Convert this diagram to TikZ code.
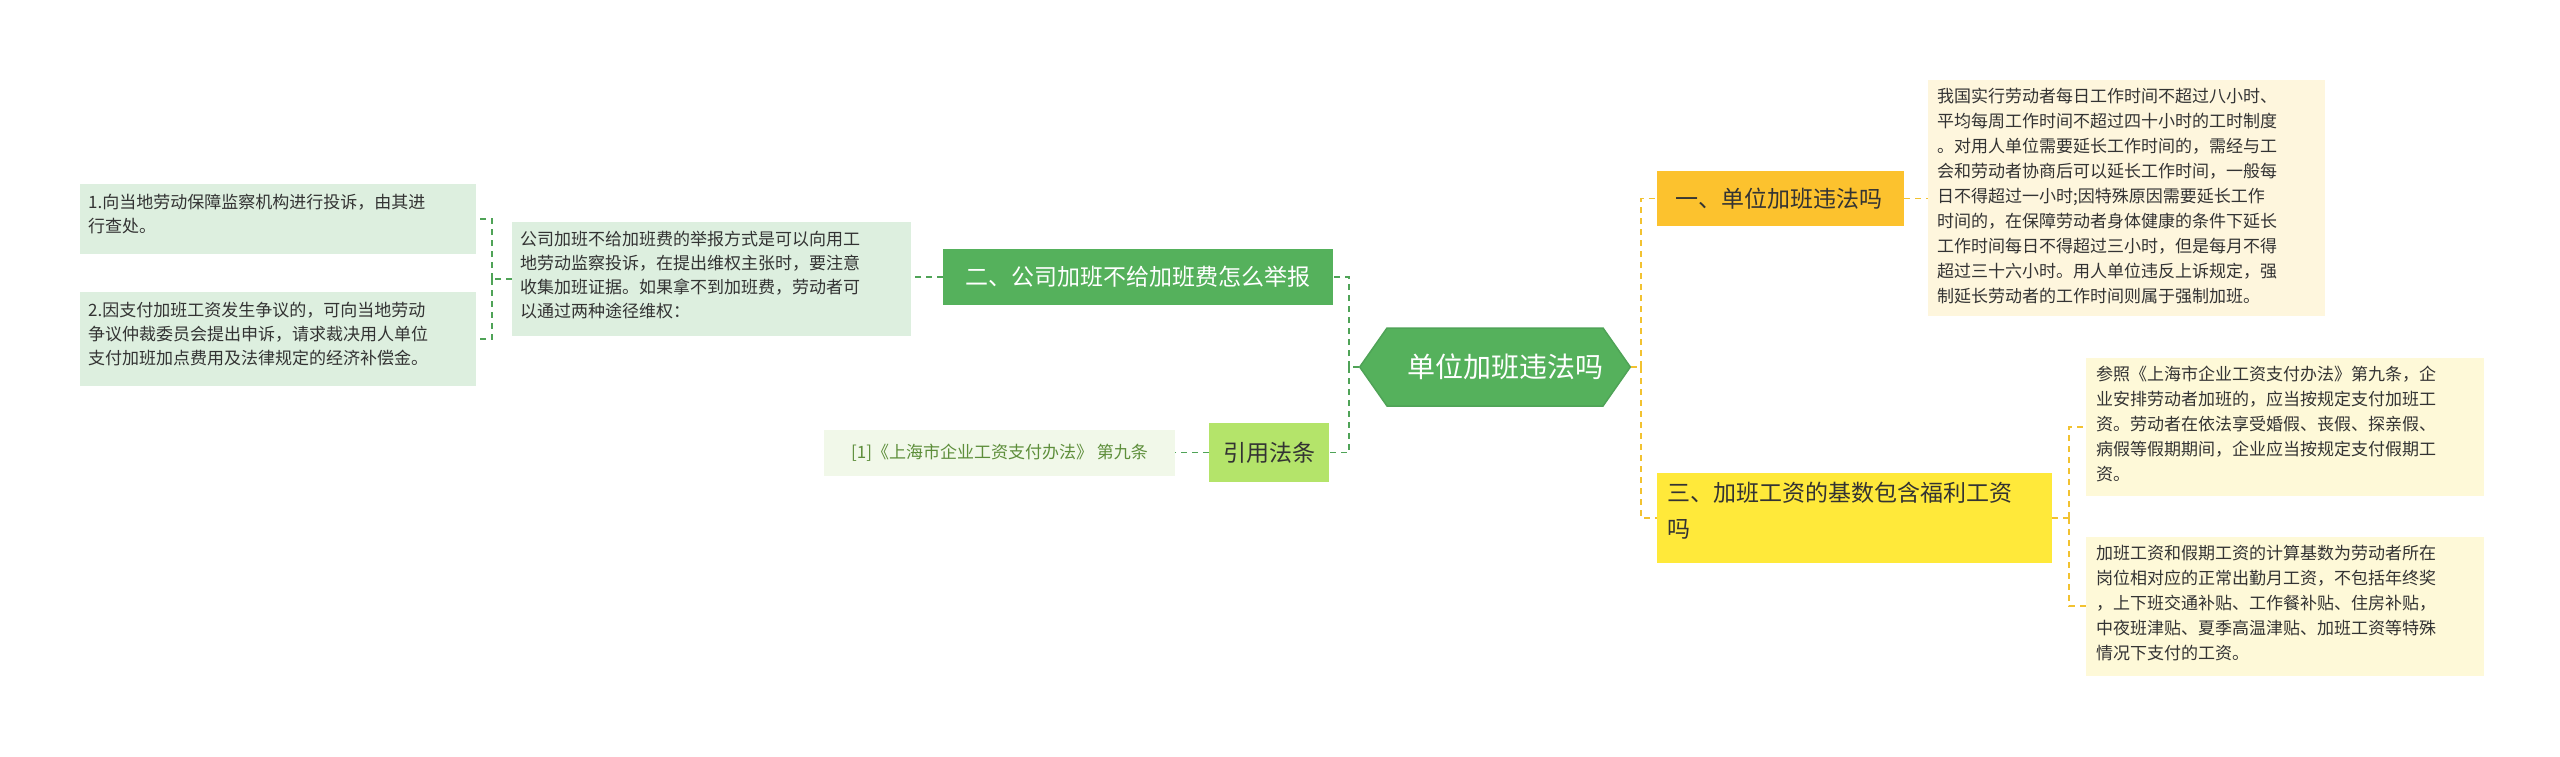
\documentclass[tikz,border=0pt]{standalone}
\usepackage{fontspec}
\setmainfont{Noto Sans CJK SC}
\usetikzlibrary{shapes.symbols}
\definecolor{gmain}{HTML}{55B15C}
\definecolor{gline}{HTML}{4FA357}
\definecolor{gpale}{HTML}{DDEFDF}
\definecolor{ylink}{HTML}{F2C230}
\definecolor{orangey}{HTML}{FCC22E}
\definecolor{yellowy}{HTML}{FFE93A}
\definecolor{cream}{HTML}{FEF6DD}
\definecolor{cream2}{HTML}{FEF9D8}
\definecolor{lime}{HTML}{B4E46A}
\definecolor{refbg}{HTML}{F1F8E9}
\definecolor{reftxt}{HTML}{5D8E3A}
\tikzset{
  x=1pt,y=-1pt,
  txt/.style={font=\fontsize{17}{25}\selectfont, align=left, anchor=north west, inner sep=0pt, text=black!80},
  ltxt/.style={font=\fontsize{17}{24}\selectfont, align=left, anchor=north west, inner sep=0pt, text=black!80},
  gdash/.style={draw=gline, dashed, dash pattern=on 6pt off 5pt, line width=1.6pt},
  ydash/.style={draw=ylink, dashed, dash pattern=on 6pt off 5pt, line width=1.6pt},
}
\begin{document}
\begin{tikzpicture}
\useasboundingbox (0,0) rectangle (2560,756);
% central
\node[signal, signal to=east and west, signal pointer angle=110, fill=gmain, draw=gline, line width=1.5pt, minimum width=260, minimum height=78, inner sep=0pt, font=\fontsize{28}{34}\selectfont, text=white] (c) at (1495,367) {\hspace{20pt}单位加班违法吗\hspace{20pt}};
% right branch 1
\fill[orangey] (1657,171) rectangle (1904,226);
\node[anchor=west, font=\fontsize{23}{30}\selectfont, text=black!80, inner sep=0pt] (n1) at (1675,198.5) {一、单位加班违法吗};
\coordinate (n1w) at (1657,198.5); \coordinate (n1e) at (1904,198.5);
\fill[cream] (1928,80) rectangle (2325,316);
\node[txt] (t1) at (1937,88) {我国实行劳动者每日工作时间不超过八小时、\\平均每周工作时间不超过四十小时的工时制度\\。对用人单位需要延长工作时间的，需经与工\\会和劳动者协商后可以延长工作时间，一般每\\日不得超过一小时;因特殊原因需要延长工作\\时间的，在保障劳动者身体健康的条件下延长\\工作时间每日不得超过三小时，但是每月不得\\超过三十六小时。用人单位违反上诉规定，强\\制延长劳动者的工作时间则属于强制加班。};
\coordinate (t1w) at (1928,198.5);
% right branch 3
\fill[yellowy] (1657,473) rectangle (2052,563);
\node[anchor=north west, align=left, font=\fontsize{23}{36}\selectfont, text=black!80, inner sep=0pt] (n3) at (1667,482) {三、加班工资的基数包含福利工资\\吗};
\coordinate (n3w) at (1657,518); \coordinate (n3e) at (2052,518);
\fill[cream2] (2086,358) rectangle (2484,496);
\node[txt] (t3a) at (2096,366) {参照《上海市企业工资支付办法》第九条，企\\业安排劳动者加班的，应当按规定支付加班工\\资。劳动者在依法享受婚假、丧假、探亲假、\\病假等假期期间，企业应当按规定支付假期工\\资。};
\fill[cream2] (2086,537) rectangle (2484,676);
\node[txt] (t3b) at (2096,545) {加班工资和假期工资的计算基数为劳动者所在\\岗位相对应的正常出勤月工资，不包括年终奖\\，上下班交通补贴、工作餐补贴、住房补贴，\\中夜班津贴、夏季高温津贴、加班工资等特殊\\情况下支付的工资。};
\coordinate (t3aw) at (2086,427); \coordinate (t3bw) at (2086,606);
% right connectors
\coordinate (rj) at (1641,367);
\draw[ydash] (c.east) -- (rj);
\draw[ydash] (rj) |- (n1w);
\draw[ydash] (rj) |- (n3w);
\draw[ydash] (n1e) -- (t1w);
\coordinate (rj3) at (2069,518);
\draw[ydash] (n3e) -- (rj3);
\draw[ydash] (rj3) |- (t3aw);
\draw[ydash] (rj3) |- (t3bw);
% left branch
\fill[gmain] (943,249) rectangle (1333,305);
\node[anchor=center, font=\fontsize{23}{30}\selectfont, text=white, inner sep=0pt] (n2) at (1138,277) {二、公司加班不给加班费怎么举报};
\coordinate (n2w) at (943,277); \coordinate (n2e) at (1333,277);
\fill[gpale] (512,222) rectangle (911,336);
\node[ltxt] (t2) at (520,231) {公司加班不给加班费的举报方式是可以向用工\\地劳动监察投诉，在提出维权主张时，要注意\\收集加班证据。如果拿不到加班费，劳动者可\\以通过两种途径维权：};
\coordinate (t2w) at (512,279); \coordinate (t2e) at (911,277);
\fill[gpale] (80,184) rectangle (476,254);
\node[ltxt] (l1) at (88,194) {1.向当地劳动保障监察机构进行投诉，由其进\\行查处。};
\fill[gpale] (80,292) rectangle (476,386);
\node[ltxt] (l2) at (88,302) {2.因支付加班工资发生争议的，可向当地劳动\\争议仲裁委员会提出申诉，请求裁决用人单位\\支付加班加点费用及法律规定的经济补偿金。};
\coordinate (l1e) at (476,219); \coordinate (l2e) at (476,339);
% ref
\fill[lime] (1209,423) rectangle (1329,482);
\node[font=\fontsize{23}{30}\selectfont, text=black!80, inner sep=0pt] (rf) at (1269,452.5) {引用法条};
\coordinate (rfw) at (1209,452.5); \coordinate (rfe) at (1329,452.5);
\fill[refbg] (824,430) rectangle (1175,476);
\node[font=\fontsize{17}{25}\selectfont, text=reftxt, inner sep=0pt] (rt) at (999.5,453) {[1]《上海市企业工资支付办法》 第九条};
\coordinate (rte) at (1175,452.5);
% left connectors
\coordinate (lj) at (1349,367);
\draw[gdash] (c.west) -- (lj);
\draw[gdash] (lj) |- (n2e);
\draw[gdash] (lj) |- (rfe);
\draw[gdash] (n2w) -- (t2e);
\draw[gdash] (rfw) -- (rte);
\coordinate (lj2) at (492,279);
\draw[gdash] (t2w) -- (lj2);
\draw[gdash] (lj2) |- (l1e);
\draw[gdash] (lj2) |- (l2e);
\end{tikzpicture}
\end{document}
